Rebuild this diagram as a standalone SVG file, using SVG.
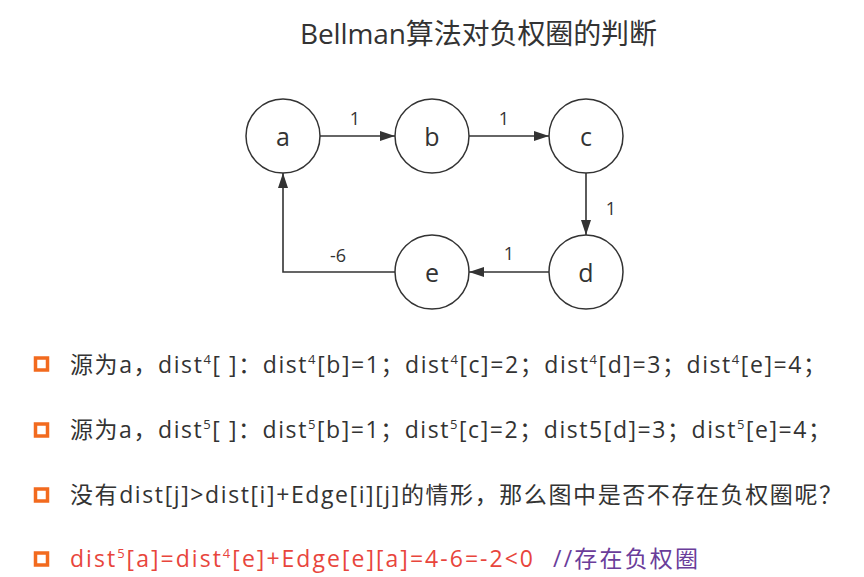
<svg xmlns="http://www.w3.org/2000/svg" width="864" height="577" viewBox="0 0 864 577">
<defs>
<style>
.node{fill:#fff;stroke:#333;stroke-width:1.5}
.nl{font-family:"Open Sans","Noto Sans",sans-serif;font-size:25px;fill:#333;text-anchor:middle}
.el{font-family:"Open Sans","Noto Sans",sans-serif;font-size:18px;fill:#333;text-anchor:middle}
.edge{fill:none;stroke:#333;stroke-width:1.6}
.t{font-family:"Open Sans","Noto Sans CJK SC",sans-serif;font-size:23px;fill:#333}
.red{fill:#E8453C}
.pur{fill:#6A3D9A}
.bul{fill:#fff;stroke:#F26A1E;stroke-width:3.5}
</style>
<marker id="arr" viewBox="0 0 15 10" refX="15" refY="5" markerWidth="15" markerHeight="10" orient="auto" markerUnits="userSpaceOnUse">
<path d="M0,0 L15,5 L0,10 z" fill="#333"/>
</marker>
</defs>
<rect width="864" height="577" fill="#fff"/>
<text x="300" y="44" class="t" style="font-size:28px" textLength="357" lengthAdjust="spacing">Bellman算法对负权圈的判断</text>
<g id="connectors">
<line class="edge" x1="320" y1="136" x2="395" y2="136" marker-end="url(#arr)"/>
<line class="edge" x1="469" y1="136" x2="549" y2="136" marker-end="url(#arr)"/>
<line class="edge" x1="586" y1="173" x2="586" y2="235" marker-end="url(#arr)"/>
<line class="edge" x1="549" y1="272" x2="469" y2="272" marker-end="url(#arr)"/>
<polyline class="edge" points="395,272 283,272 283,173" marker-end="url(#arr)"/>
<text class="el" x="355" y="125">1</text>
<text class="el" x="504" y="125">1</text>
<text class="el" x="611" y="215">1</text>
<text class="el" x="509" y="260">1</text>
<text class="el" x="338" y="262">-6</text>
</g>
<g id="node-a"><circle class="node" cx="283" cy="136" r="37"/><text class="nl" x="283" y="146">a</text></g>
<g id="node-b"><circle class="node" cx="432" cy="136" r="37"/><text class="nl" x="432" y="146">b</text></g>
<g id="node-c"><circle class="node" cx="586" cy="136" r="37"/><text class="nl" x="586" y="146">c</text></g>
<g id="node-d"><circle class="node" cx="586" cy="272" r="37"/><text class="nl" x="586" y="282">d</text></g>
<g id="node-e"><circle class="node" cx="432" cy="272" r="37"/><text class="nl" x="432" y="282">e</text></g>
<g id="bullets">
<rect class="bul" x="35.5" y="358" width="12" height="12"/>
<rect class="bul" x="35.5" y="424" width="12" height="12"/>
<rect class="bul" x="35.5" y="489" width="12" height="12"/>
<rect class="bul" x="35.5" y="553" width="12" height="12"/>
</g>
<g id="text-lines">
<text class="t" x="70" y="373" textLength="756" lengthAdjust="spacing">源为a，dist<tspan font-size="13" dy="-9">4</tspan><tspan dy="9">[ ]：dist</tspan><tspan font-size="13" dy="-9">4</tspan><tspan dy="9">[b]=1；dist</tspan><tspan font-size="13" dy="-9">4</tspan><tspan dy="9">[c]=2；dist</tspan><tspan font-size="13" dy="-9">4</tspan><tspan dy="9">[d]=3；dist</tspan><tspan font-size="13" dy="-9">4</tspan><tspan dy="9">[e]=4；</tspan></text>
<text class="t" x="70" y="438" textLength="761" lengthAdjust="spacing">源为a，dist<tspan font-size="13" dy="-9">5</tspan><tspan dy="9">[ ]：dist</tspan><tspan font-size="13" dy="-9">5</tspan><tspan dy="9">[b]=1；dist</tspan><tspan font-size="13" dy="-9">5</tspan><tspan dy="9">[c]=2；dist5[d]=3；dist</tspan><tspan font-size="13" dy="-9">5</tspan><tspan dy="9">[e]=4；</tspan></text>
<text class="t" x="70" y="503" textLength="772" lengthAdjust="spacing">没有dist[j]&gt;dist[i]+Edge[i][j]的情形，那么图中是否不存在负权圈呢？</text>
<text class="t red" x="70" y="567" textLength="463" lengthAdjust="spacing">dist<tspan font-size="13" dy="-9">5</tspan><tspan dy="9">[a]=dist</tspan><tspan font-size="13" dy="-9">4</tspan><tspan dy="9">[e]+Edge[e][a]=4-6=-2&lt;0</tspan></text>
<text class="t pur" x="553" y="567" textLength="145" lengthAdjust="spacing">//存在负权圈</text>
</g>
</svg>
